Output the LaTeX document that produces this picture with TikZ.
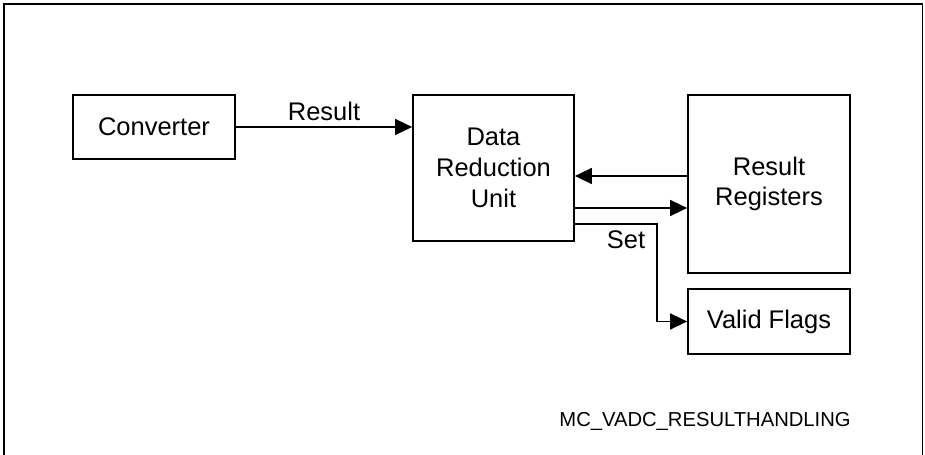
\documentclass[tikz,border=0pt]{standalone}
\usepackage{fontspec}
\setmainfont{Liberation Sans}
\usetikzlibrary{arrows.meta,positioning,calc}

\begin{document}
\begin{tikzpicture}[font=\fontsize{14.5}{17.5}\selectfont,
  blk/.style={draw,line width=1pt,minimum width=3.24cm,align=center,inner sep=0pt},
  arr/.style={-{Triangle[length=0.34cm,width=0.32cm]},line width=0.9pt}]
  \useasboundingbox (0,0) rectangle (18.5,9.1);
  \draw[line width=1.1pt] (0.08,0) -- (0.08,9.02) -- (18.45,9.02) -- (18.45,0);
  \node[blk,minimum height=1.28cm] (conv) at (3.08,6.56) {Converter};
  \node[blk,minimum width=3.22cm,minimum height=2.92cm] (dru) at (9.87,5.74) {Data\\Reduction\\Unit};
  \node[blk,minimum height=3.56cm] (rr) at (15.38,5.42) {Result\\Registers};
  \node[blk,minimum height=1.3cm] (vf) at (15.38,2.67) {Valid Flags};
  \draw[arr] (conv.east) -- (conv.east -| dru.west) node[midway,above] {Result};
  \draw[arr] ([yshift=-0.16cm]dru.east -| rr.west) -- ([yshift=-0.16cm]dru.east);
  \draw[arr] ([yshift=-0.8cm]dru.east) -- ([yshift=-0.8cm]dru.east -| rr.west);
  \draw[arr] ([yshift=-1.12cm]dru.east) -- ++(1.64,0)
    node[anchor=north east,xshift=-0.1cm] {Set} |- (vf.west);
  \node[anchor=east,inner sep=0pt,font=\fontsize{11.5}{13}\selectfont] (tag) at (17.02,0.67) {MC\_VADC\_RESULTHANDLING};
\end{tikzpicture}
\end{document}
